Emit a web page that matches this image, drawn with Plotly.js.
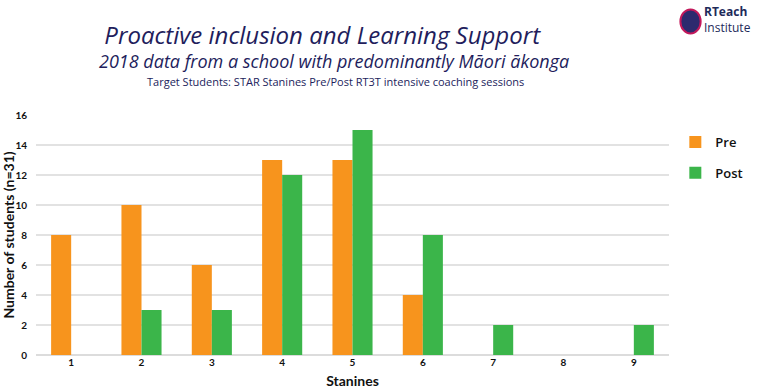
<!DOCTYPE html>
<html>
<head>
<meta charset="utf-8">
<script src="https://cdn.plot.ly/plotly-3.0.1.min.js"></script>
<style>html,body{margin:0;padding:0;background:#fff;}#chart{width:760px;height:391px;}</style>
</head>
<body>
<div id="chart"></div>
<script>
const stanines = ['1','2','3','4','5','6','7','8','9'];
const preValues = [8, 10, 6, 13, 13, 4, 0, 0, 0];
const postValues = [0, 3, 3, 12, 15, 8, 2, 0, 2];
const seriesNames = ['Pre', 'Post'];
const yTicks = [0, 2, 4, 6, 8, 10, 12, 14, 16];

const tickFont = {family: 'Lato, "Open Sans", sans-serif', size: 10, color: '#111', weight: 700};
const navy = '#221d5c';

const traces = [
  {type: 'bar', name: seriesNames[0], legendgroup: 'pre', x: stanines, y: preValues, marker: {color: '#f7941d'}},
  {type: 'bar', name: seriesNames[1], legendgroup: 'post', x: stanines, y: postValues, marker: {color: '#3bb54a'}}
];

const layout = {
  width: 760, height: 391,
  margin: {l: 36, r: 88, t: 115, b: 36},
  paper_bgcolor: '#fff', plot_bgcolor: '#fff',
  barmode: 'group', bargap: 0.43, bargroupgap: 0,
  showlegend: true,
  legend: {x: 1.01, xanchor: 'left', y: 0.95, yanchor: 'top', font: {family: '"Open Sans", sans-serif', size: 13, color: '#111', weight: 600}, tracegroupgap: 11, itemwidth: 30},
  title: {text: 'Proactive inclusion and Learning Support', x: 0.424, xanchor: 'center', y: 0.908, yanchor: 'middle',
    font: {family: '"Open Sans", sans-serif', size: 24, color: navy, style: 'italic'}},
  xaxis: {type: 'category', tickvals: stanines, ticktext: stanines, tickfont: tickFont, showgrid: false, showline: false, zeroline: false, ticks: '',
    title: {text: 'Stanines', font: {family: 'Lato, sans-serif', size: 14, color: '#111', weight: 700}, standoff: 9}},
  yaxis: {range: [0, 16], tickvals: yTicks, tickfont: tickFont, showgrid: true, gridcolor: '#e2e2e2', gridwidth: 1.5, zeroline: true, zerolinecolor: '#dcdcdc', zerolinewidth: 1.5, showline: false, ticks: '', ticklabelstandoff: 8,
    title: {text: 'Number of students (n=31)', font: {family: 'Lato, sans-serif', size: 14, color: '#111', weight: 700}, standoff: 0}},
  annotations: [
    {xref: 'paper', yref: 'paper', x: 0.471, y: 1.224, xanchor: 'center', yanchor: 'middle', showarrow: false,
      text: '2018 data from a school with predominantly Māori ākonga', font: {family: '"Open Sans", sans-serif', size: 18, color: navy, style: 'italic'}},
    {xref: 'paper', yref: 'paper', x: 0.473, y: 1.14, xanchor: 'center', yanchor: 'middle', showarrow: false,
      text: 'Target Students: STAR Stanines Pre/Post RT3T intensive coaching sessions', font: {family: '"Open Sans", sans-serif', size: 11, color: navy}},
    {xref: 'paper', yref: 'paper', x: 1.132, y: 1.396, xanchor: 'right', yanchor: 'middle', showarrow: false, align: 'left',
      text: '<b>RTeach</b><br>Institute', font: {family: '"Open Sans", sans-serif', size: 12, color: '#1e2a5a'}}
  ],
  shapes: [
    {type: 'circle', xref: 'paper', yref: 'paper', x0: 1.018, x1: 1.05, y0: 1.34, y1: 1.44, fillcolor: '#2d2a6e', line: {color: '#c2185b', width: 2}}
  ]
};

Plotly.newPlot('chart', traces, layout, {displayModeBar: false, staticPlot: true});
</script>
</body>
</html>
